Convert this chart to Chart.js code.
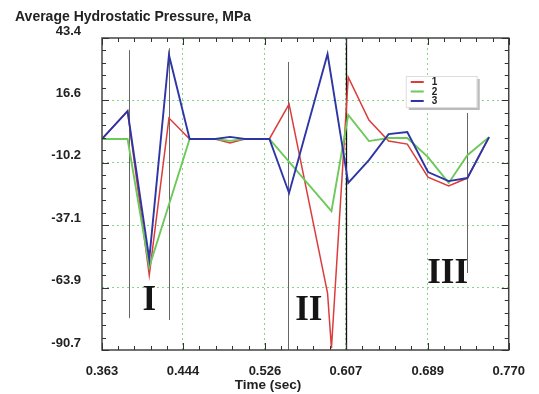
<!DOCTYPE html>
<html>
<head>
<meta charset="utf-8">
<script src="https://cdn.jsdelivr.net/npm/chart.js@4.4.0/dist/chart.umd.min.js"></script>
<style>
  html, body { margin: 0; padding: 0; background: #fff; }
</style>
</head>
<body>
<canvas id="c" width="539" height="394"></canvas>
<script>
// Datos (tiempo en s, presión en MPa)
const times   = [0.363, 0.3886, 0.4103, 0.4300, 0.4507, 0.4763, 0.4911, 0.5059, 0.5305, 0.5502, 0.5700, 0.5887, 0.5926, 0.6094, 0.6301, 0.6498, 0.6685, 0.6892, 0.7099, 0.7286, 0.7503];
const series1 = [0, 12.0, -58.5,  9.0, 0, 0, -1.7, 0, 0,  15.0, null, -66.2, -89.9, 26.6,  8.1, -0.9, -2.2, -16.4, -20.2, -16.8, 0.8];
const series2 = [0,  0.0, -55.0, null, 0, 0, -0.8, 0, 0,  null, null,  null, -31.0, 10.3, -0.9,  0.4,  0.4,  -7.8, -18.9,  -7.0, 0.8];
const series3 = [0, 12.0, -51.6, 36.1, 0, 0,  0.9, 0, 0, -23.2, null,  36.5,  null, -18.9, -9.1, 2.1,  3.0, -14.2, -18.1, -16.8, 0.8];
const seriesLabels = ['1', '2', '3'];

const xTicks = [0.363, 0.444, 0.526, 0.607, 0.689, 0.770];
const yTicks = [-90.7, -63.9, -37.1, -10.2, 16.6, 43.4];

// Líneas de zonas (t, y arriba, y abajo) y rótulos I, II, III
const markerLines = [
  { t: 0.3896, top: 38.2, bottom: -77.0 },
  { t: 0.4300, top: 39.0, bottom: -77.8 },
  { t: 0.5493, top: 33.1, bottom: -90.7 },
  { t: 0.7286, top: 11.2, bottom: -57.6 }
];
const regionLabels = [
  { text: 'I',   t: 0.4103, y: -73.5 },
  { text: 'II',  t: 0.5700, y: -77.8 },
  { text: 'III', t: 0.7089, y: -61.9 }
];

const FONT = '"Liberation Sans", Arial, sans-serif';
const colors = ['#dc3c3c', '#6cc95a', '#2e36a6'];

const toPoints = vals => times.map((t, i) => ({ x: t, y: vals[i] }));

const extras = {
    id: 'extras',
    beforeDatasetsDraw(chart) {
        const { ctx, chartArea: a, scales: { x, y } } = chart;
        ctx.save();
        ctx.strokeStyle = '#666';
        ctx.lineWidth = 1;
        markerLines.forEach(m => {
            const px = Math.round(x.getPixelForValue(m.t)) + 0.5;
            ctx.beginPath();
            ctx.moveTo(px, y.getPixelForValue(m.top));
            ctx.lineTo(px, y.getPixelForValue(m.bottom));
            ctx.stroke();
        });
        // línea negra en 0.607
        const bx = Math.round(x.getPixelForValue(0.607)) + 0.5;
        ctx.strokeStyle = '#111';
        ctx.lineWidth = 1.3;
        ctx.beginPath();
        ctx.moveTo(bx, a.top);
        ctx.lineTo(bx, a.bottom);
        ctx.stroke();
        ctx.restore();
    },
    afterDatasetsDraw(chart) {
        const { ctx, chartArea: a, scales: { x, y } } = chart;
        ctx.save();

        // marco
        ctx.strokeStyle = '#444';
        ctx.lineWidth = 1.5;
        ctx.strokeRect(a.left, a.top, a.right - a.left, a.bottom - a.top);

        // ticks hacia dentro (mayores y menores)
        ctx.lineWidth = 1;
        ctx.strokeStyle = '#333';
        const seg = (x1, y1, x2, y2) => { ctx.beginPath(); ctx.moveTo(x1, y1); ctx.lineTo(x2, y2); ctx.stroke(); };
        for (let i = 0; i < xTicks.length; i++) {
            const v = xTicks[i];
            const px = Math.round(x.getPixelForValue(v)) + 0.5;
            seg(px, a.bottom, px, a.bottom - 7);
            seg(px, a.top, px, a.top + 7);
            if (i < xTicks.length - 1) {
                const step = (xTicks[i + 1] - v) / 5;
                for (let k = 1; k < 5; k++) {
                    const mx = Math.round(x.getPixelForValue(v + k * step)) + 0.5;
                    seg(mx, a.bottom, mx, a.bottom - 4);
                    seg(mx, a.top, mx, a.top + 4);
                }
            }
        }
        for (let i = 0; i < yTicks.length; i++) {
            const v = yTicks[i];
            const py = Math.round(y.getPixelForValue(v)) + 0.5;
            seg(a.left, py, a.left + 7, py);
            seg(a.right, py, a.right - 7, py);
            if (i < yTicks.length - 1) {
                const step = (yTicks[i + 1] - v) / 5;
                for (let k = 1; k < 5; k++) {
                    const my = Math.round(y.getPixelForValue(v + k * step)) + 0.5;
                    seg(a.left, my, a.left + 4, my);
                    seg(a.right, my, a.right - 4, my);
                }
            }
        }

        // rótulos de zonas
        ctx.fillStyle = '#151515';
        ctx.font = 'bold 35px "Liberation Serif", "Times New Roman", serif';
        ctx.textAlign = 'center';
        ctx.textBaseline = 'alphabetic';
        regionLabels.forEach(r => {
            ctx.fillText(r.text, x.getPixelForValue(r.t), y.getPixelForValue(r.y));
        });

        // leyenda
        const lx = a.right - 103, ly = a.top + 38, lw = 71, lh = 31;
        ctx.fillStyle = '#bbb';
        ctx.fillRect(lx + 3, ly + 3, lw, lh);
        ctx.fillStyle = '#fff';
        ctx.fillRect(lx, ly, lw, lh);
        ctx.strokeStyle = '#ddd';
        ctx.lineWidth = 1;
        ctx.strokeRect(lx + 0.5, ly + 0.5, lw, lh);
        ctx.font = 'bold 10px ' + FONT;
        ctx.textAlign = 'left';
        ctx.textBaseline = 'middle';
        seriesLabels.forEach((lab, i) => {
            const ry = ly + 6 + i * 9.5;
            ctx.strokeStyle = colors[i];
            ctx.lineWidth = 2;
            seg(lx + 5, ry, lx + 18, ry);
            ctx.fillStyle = '#222';
            ctx.fillText(lab, lx + 26, ry + 0.5);
        });
        ctx.restore();
    },
    afterDraw(chart) {
        const { ctx, chartArea: a } = chart;
        ctx.save();
        ctx.fillStyle = '#222';
        ctx.font = 'bold 14px ' + FONT;
        ctx.textBaseline = 'alphabetic';
        ctx.textAlign = 'left';
        ctx.fillText('Average Hydrostatic Pressure, MPa', 15, 21);
        ctx.font = 'bold 13.5px ' + FONT;
        ctx.textAlign = 'center';
        ctx.fillText('Time (sec)', a.left + 166, 389);
        ctx.restore();
    }
};

const gridColor = ticks => ctx => {
    const v = ctx.tick ? ctx.tick.value : null;
    return (v === ticks[0] || v === ticks[ticks.length - 1]) ? 'rgba(0,0,0,0)' : '#86d486';
};

new Chart(document.getElementById('c'), {
    type: 'line',
    data: {
        datasets: [series1, series2, series3].map((s, i) => ({
            label: seriesLabels[i],
            data: toPoints(s),
            borderColor: colors[i],
            borderWidth: i === 0 ? 1.5 : 1.9,
            pointRadius: 0,
            fill: false,
            tension: 0,
            spanGaps: true,
            order: 2 - i
        }))
    },
    options: {
        responsive: false,
        animation: false,
        layout: { padding: { left: 0, right: 24, top: 38, bottom: 0 } },
        plugins: { legend: { display: false }, tooltip: { enabled: false } },
        scales: {
            x: {
                type: 'linear',
                min: 0.363,
                max: 0.770,
                afterBuildTicks: s => { s.ticks = xTicks.map(v => ({ value: v })); },
                afterFit: s => { s.height = 44; },
                ticks: {
                    callback: v => Number(v).toFixed(3),
                    font: { family: FONT, size: 13, weight: 'bold' },
                    color: '#222',
                    padding: 14,
                    maxRotation: 0,
                    autoSkip: false
                },
                grid: { color: gridColor(xTicks), drawTicks: false, lineWidth: 1 },
                border: { display: false, dash: [2, 3] }
            },
            y: {
                min: -90.7,
                max: 43.4,
                afterBuildTicks: s => { s.ticks = yTicks.map(v => ({ value: v })); },
                afterFit: s => { s.width = 102; },
                ticks: {
                    callback: v => Number(v).toFixed(1),
                    font: { family: FONT, size: 13, weight: 'bold' },
                    color: '#222',
                    padding: 21,
                    labelOffset: -7,
                    autoSkip: false
                },
                grid: { color: gridColor(yTicks), drawTicks: false, lineWidth: 1 },
                border: { display: false, dash: [2, 3] }
            }
        }
    },
    plugins: [extras]
});
</script>
</body>
</html>
